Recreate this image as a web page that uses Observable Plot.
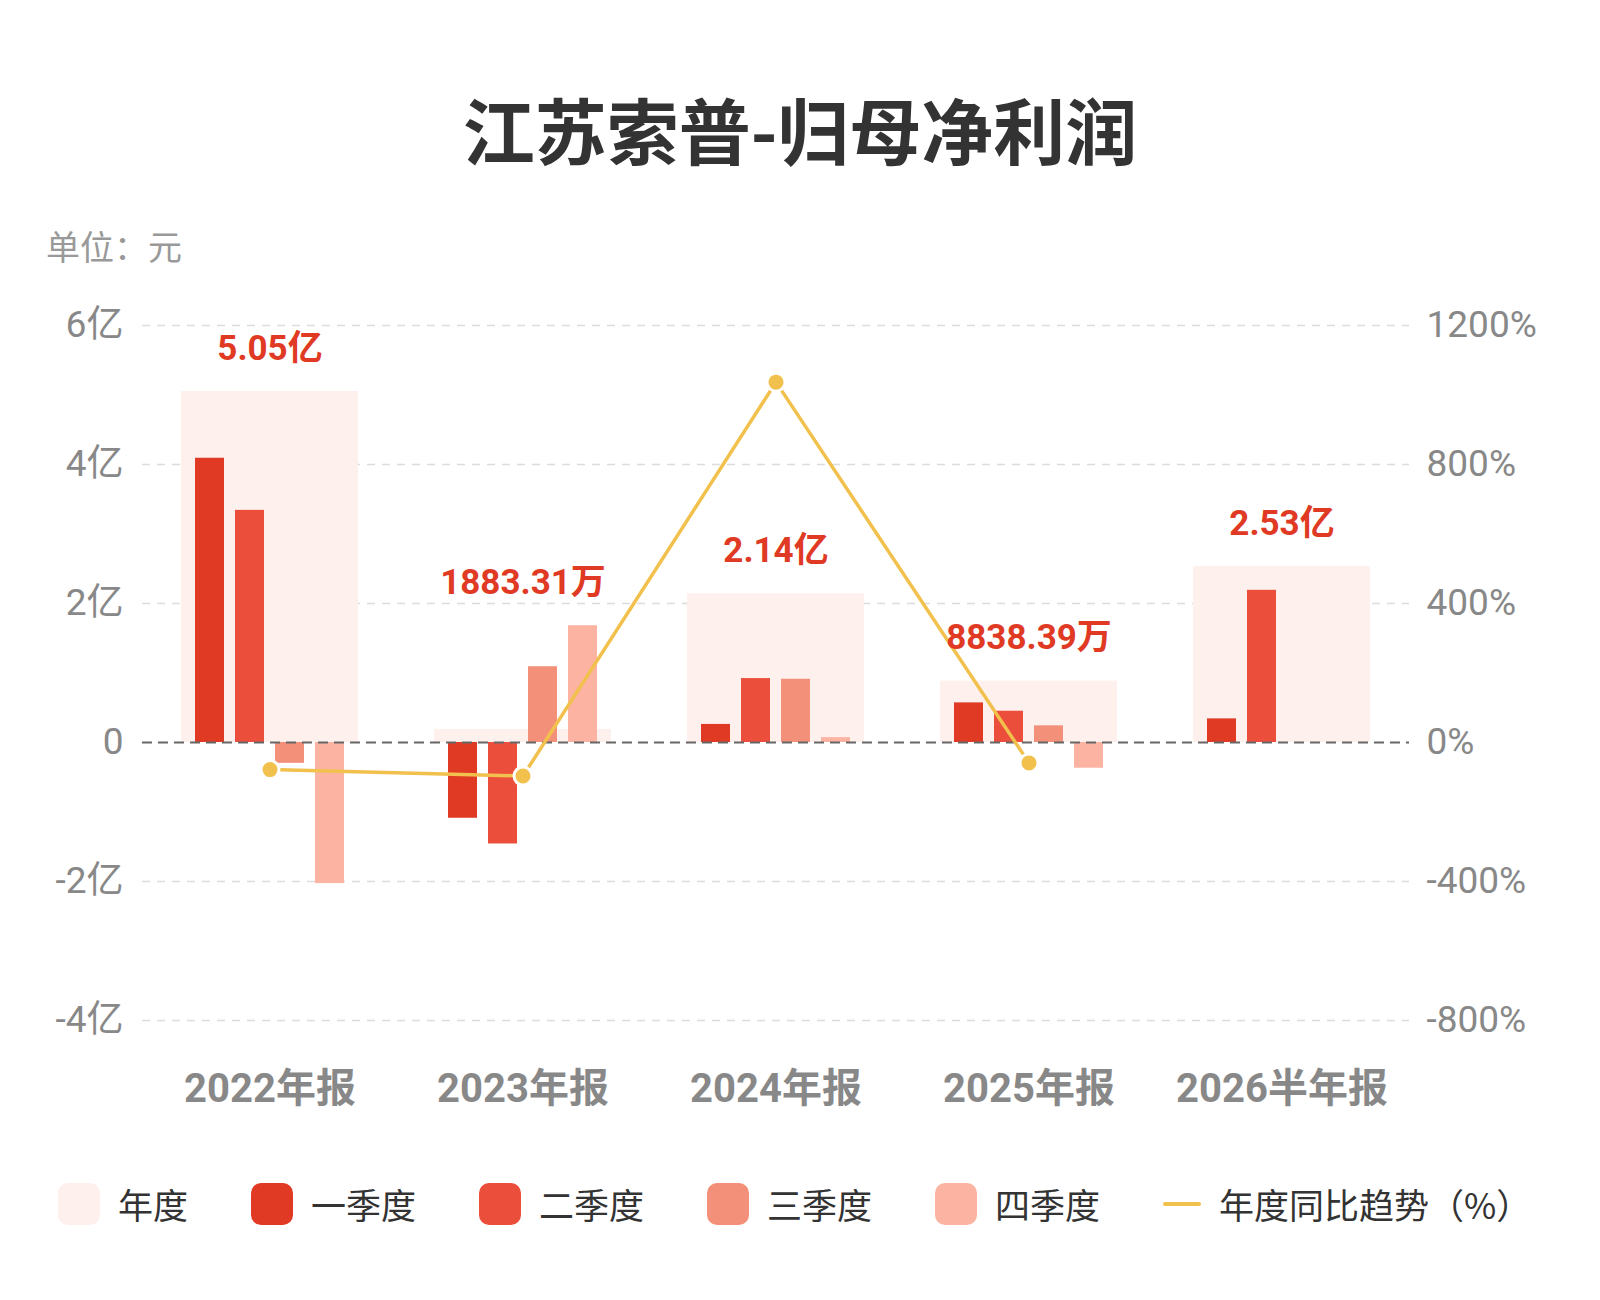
<!DOCTYPE html>
<html>
<head>
<meta charset="utf-8">
<script src="https://cdn.jsdelivr.net/npm/d3@7"></script>
<script src="https://cdn.jsdelivr.net/npm/@observablehq/plot@0.6"></script>
<style>
  html, body { margin: 0; padding: 0; background: #fff; }
  body { width: 1600px; height: 1300px; position: relative; font-family: "Noto Sans CJK SC", "Noto Sans", sans-serif; }
  #title { position: absolute; top: 92px; left: 0; width: 1600px; text-align: center; font-size: 72px; font-weight: 700; color: #333; line-height: 1; }
  #unit { position: absolute; top: 229px; left: 46px; font-size: 34px; color: #999; line-height: 1; }
  #chart { position: absolute; top: 280px; left: 0; }
  #legend { position: absolute; top: 1178px; left: 58px; display: flex; align-items: center; gap: 63px; }
  .item { display: flex; align-items: center; gap: 18px; font-size: 35px; color: #333; }
  .sw { width: 42px; height: 42px; border-radius: 10px; }
  .ln { width: 38px; height: 4px; border-radius: 2px; }
</style>
</head>
<body>
<div id="title"></div>
<div id="unit"></div>
<div id="chart"></div>
<div id="legend"></div>
<script>
// ---- data ----
const titleText = "江苏索普-归母净利润";
const unitText = "单位：元";
const categories = ["2022年报", "2023年报", "2024年报", "2025年报", "2026半年报"];
const annual = [5.05, 0.188331, 2.14, 0.883839, 2.53];            // 亿
const annualLabels = ["5.05亿", "1883.31万", "2.14亿", "8838.39万", "2.53亿"];
const q1 = [4.09, -1.09, 0.26, 0.57, 0.34];
const q2 = [3.34, -1.46, 0.92, 0.45, 2.19];
const q3 = [-0.30, 1.09, 0.91, 0.24, null];
const q4 = [-2.03, 1.68, 0.07, -0.37, null];
const yoyPct = [-78, -96.27, 1037, -58.7, null];                  // %
const leftTicks = [-4, -2, 0, 2, 4, 6];
const leftTickLabels = ["-4亿", "-2亿", "0", "2亿", "4亿", "6亿"];
const rightTickLabels = ["-800%", "-400%", "0%", "400%", "800%", "1200%"];
const legendLabels = ["年度", "一季度", "二季度", "三季度", "四季度", "年度同比趋势（%）"];
const colors = ["#fef0ec", "#e03a24", "#ec4e3c", "#f39079", "#fcb3a2", "#f2c04c"];

// ---- derived tables ----
const pctPerUnit = 200; // right axis: 400% aligns with 2亿
const rows = categories.map((c, i) => ({
  cat: c, annual: annual[i], q1: q1[i], q2: q2[i], q3: q3[i], q4: q4[i],
  yoy: yoyPct[i], label: annualLabels[i],
  top: Math.max(...[annual[i], q1[i], q2[i], q3[i], q4[i]].filter(v => v != null))
}));
const qKeys = ["q1", "q2", "q3", "q4"];
const insets = [[14, 134], [54, 94], [94, 54], [134, 14]];
const numFont = "Roboto, 'Noto Sans CJK SC', sans-serif";

document.getElementById("title").textContent = titleText;
document.getElementById("unit").textContent = unitText;

const quarterMarks = qKeys.map((k, j) =>
  Plot.barY(rows.filter(r => r[k] != null), {
    x: "cat", y: k, fill: colors[j + 1],
    insetLeft: insets[j][0], insetRight: insets[j][1]
  })
);

const lineRows = rows.filter(r => r.yoy != null);

const plot = Plot.plot({
  width: 1600,
  height: 840,
  marginTop: 45,
  marginBottom: 100,
  marginLeft: 142,
  marginRight: 191,
  style: { fontFamily: numFont, background: "transparent", overflow: "visible" },
  x: { domain: categories, paddingInner: 0.3, paddingOuter: 0.15, label: null },
  y: { domain: [-4, 6], label: null },
  marks: [
    Plot.ruleY(leftTicks.filter(d => d !== 0), { stroke: "#dcdcdc", strokeWidth: 1.5, strokeDasharray: "8,7" }),
    Plot.barY(rows, { x: "cat", y: "annual", fill: colors[0] }),
    ...quarterMarks,
    Plot.ruleY([0], { stroke: "#666", strokeWidth: 2, strokeDasharray: "10,6" }),
    Plot.line(lineRows, { x: "cat", y: d => d.yoy / pctPerUnit, stroke: colors[5], strokeWidth: 3.5 }),
    Plot.dot(lineRows, { x: "cat", y: d => d.yoy / pctPerUnit, r: 9, fill: colors[5], stroke: "#fff", strokeWidth: 3 }),
    Plot.text(rows, {
      x: "cat", y: "top", text: "label", dy: -43,
      fill: "#e03a24", fontSize: 35, fontWeight: "bold", lineAnchor: "middle"
    }),
    Plot.axisY({
      anchor: "left", ticks: leftTicks, tickSize: 0, tickPadding: 19,
      tickFormat: (d) => leftTickLabels[leftTicks.indexOf(d)],
      fontSize: 37, fill: "#888", label: null
    }),
    Plot.axisY({
      anchor: "right", ticks: leftTicks, tickSize: 0, tickPadding: 17,
      tickFormat: (d) => rightTickLabels[leftTicks.indexOf(d)],
      fontSize: 37, fill: "#888", label: null
    }),
    Plot.axisX({
      tickSize: 0, tickPadding: 53, fontSize: 40, fontWeight: "bold", fill: "#888", label: null
    })
  ]
});
document.getElementById("chart").appendChild(plot);

// ---- legend ----
const legend = document.getElementById("legend");
legendLabels.forEach((t, i) => {
  const item = document.createElement("div");
  item.className = "item";
  const sw = document.createElement("div");
  sw.className = i === 5 ? "ln" : "sw";
  sw.style.background = colors[i];
  const tx = document.createElement("span");
  tx.textContent = t;
  item.appendChild(sw);
  item.appendChild(tx);
  legend.appendChild(item);
});
</script>
</body>
</html>
